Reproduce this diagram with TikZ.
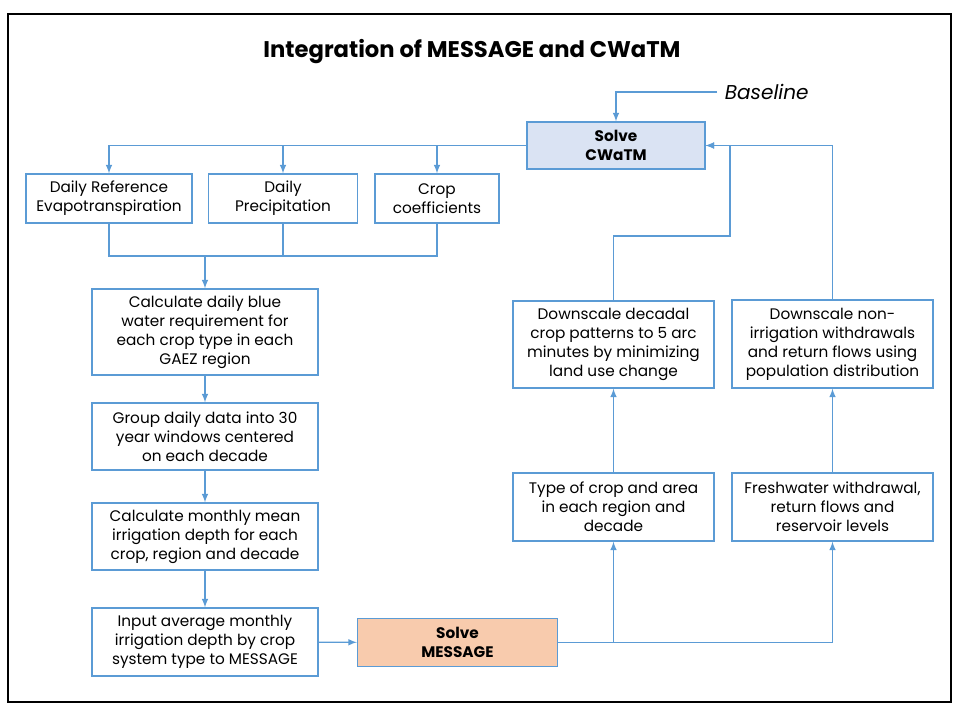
\documentclass[tikz,border=0pt]{standalone}
\usepackage{fontspec}
\setmainfont{Poppins}
\definecolor{linkblue}{HTML}{5B9BD5}
\definecolor{cwatmfill}{HTML}{DAE3F3}
\definecolor{msgfill}{HTML}{F8CBAD}
\tikzset{
	box/.style={draw=linkblue, line width=0.7pt, align=center, inner sep=0pt, font=\fontsize{8.7}{10.8}\selectfont},
	solvebox/.style={box, font=\fontsize{8.7}{10.8}\selectfont\bfseries},
	link/.style={draw=linkblue, line width=0.7pt, ->, >=latex},
	joint/.style={draw=linkblue, line width=0.7pt},
}
\begin{document}
\begin{tikzpicture}
		\useasboundingbox (0, 0) rectangle (19.2, 14.4);
		\draw[line width=0.6pt](0.16, 0.36) rectangle (19.02, 14.12);
		\node (title) at (9.44, 13.36){\fontsize{12.9}{15}\selectfont\bfseries Integration of MESSAGE and CWaTM};
		% solve boxes
		\node[solvebox, fill=cwatmfill, minimum width=3.56cm, minimum height=0.94cm] (cwatm) at (12.32, 11.49){Solve\\CWaTM};
		\node[solvebox, fill=msgfill, minimum width=4cm, minimum height=0.96cm] (message) at (9.15, 1.55){Solve\\MESSAGE};
		\node[anchor=west, inner sep=0.15cm, font=\fontsize{11.4}{13}\selectfont\itshape] (baseline) at (14.34, 12.56){Baseline};
		% inputs
		\node[box, minimum width=3.32cm, minimum height=0.98cm] (evap) at (2.18, 10.43){Daily Reference\\Evapotranspiration};
		\node[box, minimum width=2.98cm, minimum height=0.98cm] (precip) at (5.66, 10.43){Daily\\Precipitation};
		\node[box, minimum width=2.48cm, minimum height=0.98cm] (coeff) at (8.74, 10.43){Crop\\coefficients};
		% left column
		\node[box, minimum width=4.52cm, minimum height=1.72cm] (blue) at (4.1, 7.76){Calculate daily blue\\water requirement for\\each crop type in each\\GAEZ region};
		\node[box, minimum width=4.52cm, minimum height=1.34cm] (group) at (4.1, 5.67){Group daily data into 30\\year windows centered\\on each decade};
		\node[box, minimum width=4.52cm, minimum height=1.34cm] (monthly) at (4.1, 3.67){Calculate monthly mean\\irrigation depth for each\\crop, region and decade};
		\node[box, minimum width=4.52cm, minimum height=1.36cm] (input) at (4.1, 1.56){Input average monthly\\irrigation depth by crop\\system type to MESSAGE};
		% right columns
		\node[box, minimum width=4.02cm, minimum height=1.36cm] (croptype) at (12.27, 4.26){Type of crop and area\\in each region and\\decade};
		\node[box, minimum width=4.02cm, minimum height=1.36cm] (fresh) at (16.65, 4.26){Freshwater withdrawal,\\return flows and\\reservoir levels};
		\node[box, minimum width=4.02cm, minimum height=1.74cm] (decadal) at (12.27, 7.51){Downscale decadal\\crop patterns to 5 arc\\minutes by minimizing\\land use change};
		\node[box, minimum width=4.02cm, minimum height=1.76cm] (nonirr) at (16.65, 7.52){Downscale non-\\irrigation withdrawals\\and return flows using\\population distribution};
		\coordinate (split) at (4.1, 9.28);
		\coordinate (bend) at (14.6, 9.68);
		% connectors
		\draw[link](baseline.west) -| (cwatm.north);
		\draw[link](cwatm.west) -| (evap.north);
		\draw[link](cwatm.west) -| (precip.north);
		\draw[link](cwatm.west) -| (coeff.north);
		\draw[joint](evap.south) |- (split);
		\draw[joint](precip.south) |- (split);
		\draw[joint](coeff.south) |- (split);
		\draw[link](split) -- (blue.north);
		\draw[link](blue) -- (group);
		\draw[link](group) -- (monthly);
		\draw[link](monthly) -- (input);
		\draw[link](input) -- (message);
		\draw[link](message.east) -| (croptype.south);
		\draw[link](message.east) -| (fresh.south);
		\draw[link](croptype) -- (decadal);
		\draw[link](fresh) -- (nonirr);
		\draw[link](decadal.north) |- (bend) |- (cwatm.east);
		\draw[link](nonirr.north) |- (cwatm.east);
	\end{tikzpicture}
\end{document}
